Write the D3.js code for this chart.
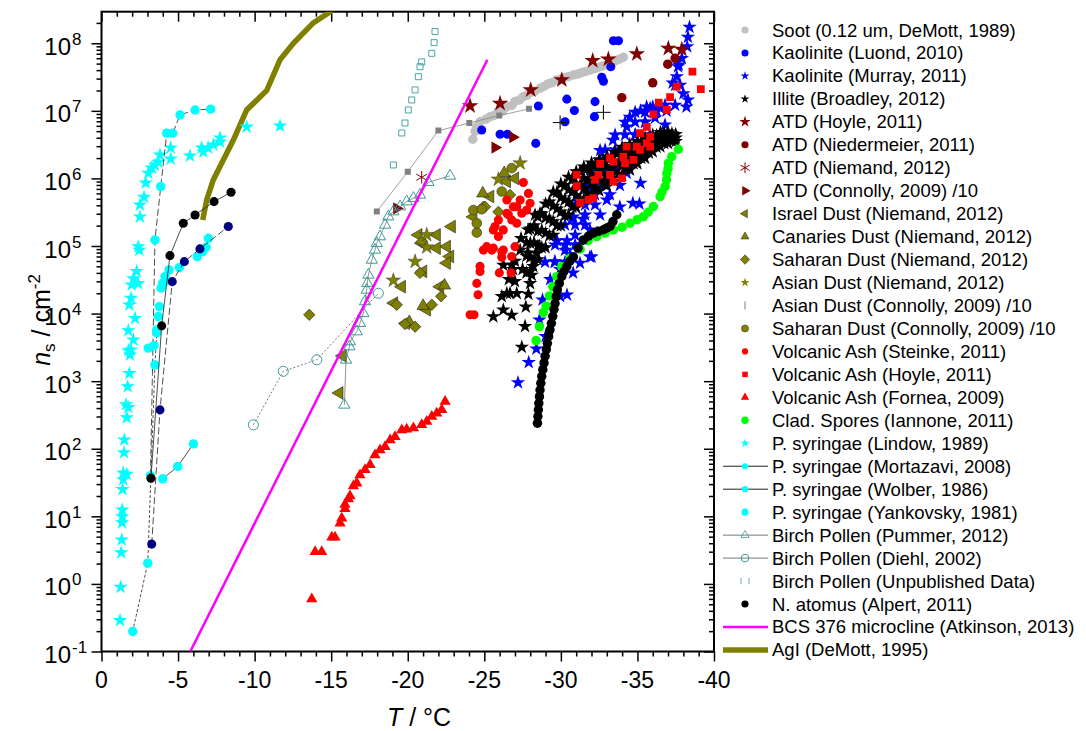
<!DOCTYPE html>
<html>
<head>
<meta charset="utf-8">
<script src="https://cdn.jsdelivr.net/npm/d3@7"></script>
<style>
  body { margin: 0; background: #fff; }
  svg { font-family: "Liberation Sans", Arial, sans-serif; }
</style>
</head>
<body>
<svg id="chart" width="1086" height="731"></svg>
<script>
// ---- data: [T in degC, ns in cm^-2] ----
const soot = [[-24.25,3.8e6],[-24.4,5.0e6],[-24.51,5.8e6],[-24.72,6.9e6],[-25.1,7.5e6],[-25.38,8.2e6],[-25.6,8.5e6],[-25.9,9.8e6],[-26.2,1.0e7],[-26.47,1.15e7],[-26.8,1.2e7],[-27.0,1.38e7],[-27.3,1.45e7],[-27.55,1.62e7],[-27.8,1.7e7],[-28.05,1.88e7],[-28.3,1.95e7],[-28.64,2.16e7],[-28.9,2.3e7],[-29.16,2.5e7],[-29.4,2.6e7],[-29.73,2.86e7],[-30.0,2.95e7],[-30.27,3.12e7],[-30.5,3.2e7],[-30.82,3.4e7],[-31.1,3.5e7],[-31.38,3.7e7],[-31.6,3.8e7],[-31.91,4.0e7],[-32.2,4.2e7],[-32.43,4.4e7],[-32.7,4.6e7],[-33.0,4.8e7],[-33.3,5.1e7],[-33.54,5.5e7],[-33.8,5.8e7],[-34.08,6.2e7]];
const kaoLuond = [[-33.43,1.09e8],[-33.76,1.09e8],[-33.26,4.5e7],[-32.67,3.14e7],[-32.78,2.74e7],[-30.39,1.49e7],[-28.53,1.18e7],[-32.23,1.37e7],[-30.88,1.01e7],[-32.19,8.2e6],[-30.27,6.9e6],[-24.83,5.2e6],[-26.03,4.5e6],[-26.51,4.5e6],[-28.36,3.3e6]];
const kaoMurray = [[-27.2,9.5e2],[-27.9,1.9e3],[-28.4,3.0e3],[-28.6,8.1e3],[-28.8,1.6e4],[-29.0,4.6e3],[-29.3,3.2e4],[-29.6,5.9e4],[-29.95,1.8e4],[-30.4,1.9e4],[-30.8,4.0e4],[-31.25,5.6e4],[-31.9,6.9e4],[-32.0,6.9e4],[-29.75,1.2e5],[-30.4,1.2e5],[-30.8,2.7e5],[-31.45,2.5e5],[-30.71,2.5e5],[-31.9,7.4e5],[-32.35,1.55e5],[-32.56,1.9e6],[-33.0,4.8e5],[-33.4,3.7e6],[-33.85,3.8e5],[-34.3,5.8e6],[-34.3,1.2e6],[-34.7,4.3e5],[-35.13,4.2e5],[-35.2,1.0e7],[-35.2,8.5e5],[-36.0,1.15e7],[-36.9,1.0e7],[-37.3,2.6e7],[-37.57,3.2e7],[-37.65,4.5e7],[-37.7,4.8e7],[-37.9,6.0e7],[-38.25,8.9e7],[-38.3,1.23e8],[-38.4,1.74e8],[-38.2,1.15e7],[-38.3,1.45e7],[-38.0,1.8e7],[-30.27,8.7e4],[-30.93,1.45e5],[-31.58,2.9e5],[-32.23,5.75e5],[-32.89,9.5e5],[-33.54,1.6e6],[-34.19,2.6e6],[-34.85,4.4e6],[-34.5,8.1e6],[-35.5,6.9e6],[-35.6,1.15e7],[-36.15,7.9e6],[-36.26,1.0e7],[-36.8,6.2e6],[-29.95,4.5e4],[-30.6,7.4e4],[-31.25,1.05e5],[-31.9,1.74e5],[-32.56,2.9e5],[-33.2,5.75e5],[-33.85,7.9e5],[-34.5,1.35e6],[-35.2,2.6e6],[-35.8,4.4e6],[-31.9,1.35e6],[-32.56,2.6e6],
  [-28.97,5.8e4],[-29.62,5.8e4],[-30.27,5.8e4],[-29.62,1.04e5],[-30.27,1.04e5],[-30.93,1.04e5],[-30.27,2.05e5],[-30.93,2.05e5],[-31.58,2.05e5],[-30.93,4.05e5],[-31.58,4.05e5],[-32.23,4.05e5],[-31.58,8.0e5],[-32.23,8.0e5],[-32.89,8.0e5],[-32.23,1.43e6],[-32.89,1.43e6],[-33.54,1.43e6],[-32.89,2.64e6],[-33.54,2.64e6],[-34.19,2.64e6],[-33.54,4.4e6],[-34.19,4.4e6],[-34.85,4.4e6],[-34.19,6.8e6],[-34.85,6.8e6],[-35.5,6.8e6],[-34.85,9.6e6],[-35.5,9.6e6],[-36.15,9.6e6],[-35.83,1.1e7],[-36.48,1.1e7],[-36.8,1.22e7],[-37.46,1.22e7],[-37.46,2.4e7],[-37.79,2.4e7]];
const illite = [[-25.59,9.0e3],[-26.24,1.14e4],[-26.79,9.5e3],[-27.45,3.2e3],[-27.66,6.5e3],[-27.71,1.26e4],[-26.14,1.8e4],[-26.68,2.0e4],[-27.88,1.95e4],[-27.99,2.8e4],[-26.24,5.2e4],[-26.79,5.2e4],[-28.1,3.7e4],[-28.43,7.8e4],[-26.47,2.0e4],[-26.88,4.5e4],[-27.34,8.7e4],[-27.86,1.74e5],[-28.31,2.9e5],[-28.64,3.05e5],[-27.12,2.0e4],[-28.2,5.0e4],[-27.86,7.9e4],[-28.6,1.0e5],
  [-26.6,3.2e4],[-27.0,6.0e4],[-27.4,1.3e5],[-27.0,3.0e4],[-27.5,4.5e4],
  [-28.0,4.2e4],[-28.0,6.8e4],[-28.0,1.1e5],[-28.0,1.8e5],
  [-28.5,6.3e4],[-28.5,1.0e5],[-28.5,1.66e5],[-28.5,2.7e5],
  [-29.0,9.5e4],[-29.0,1.55e5],[-29.0,2.6e5],[-29.0,4.2e5],
  [-29.5,1.45e5],[-29.5,2.3e5],[-29.5,3.9e5],[-29.5,6.3e5],
  [-30.0,2.0e5],[-30.0,3.2e5],[-30.0,5.2e5],[-30.0,8.3e5],
  [-30.5,2.9e5],[-30.5,4.5e5],[-30.5,6.8e5],[-30.5,1.05e6],
  [-31.0,3.7e5],[-31.0,5.6e5],[-31.0,8.3e5],[-31.0,1.26e6],
  [-31.5,4.9e5],[-31.5,7.1e5],[-31.5,1.0e6],[-31.5,1.48e6],
  [-32.0,5.8e5],[-32.0,8.3e5],[-32.0,1.17e6],[-32.0,1.7e6],
  [-32.5,6.6e5],[-32.5,9.3e5],[-32.5,1.32e6],[-32.5,1.86e6],
  [-33.0,7.8e5],[-33.0,1.07e6],[-33.0,1.51e6],[-33.0,2.1e6],
  [-33.5,9.1e5],[-33.5,1.26e6],[-33.5,1.78e6],[-33.5,2.45e6],
  [-34.0,1.12e6],[-34.0,1.55e6],[-34.0,2.1e6],[-34.0,2.9e6],
  [-34.5,1.35e6],[-34.5,1.82e6],[-34.5,2.4e6],[-34.5,3.2e6],
  [-35.0,1.66e6],[-35.0,2.1e6],[-35.0,2.75e6],[-35.0,3.55e6],
  [-35.5,2.0e6],[-35.5,2.6e6],[-35.5,3.2e6],[-35.5,4.0e6],
  [-36.0,2.5e6],[-36.0,3.0e6],[-36.0,3.6e6],[-36.0,4.4e6],
  [-36.5,2.95e6],[-36.5,3.5e6],[-36.5,4.1e6],[-36.5,4.8e6],
  [-37.0,3.3e6],[-37.0,3.8e6],[-37.0,4.3e6],[-37.0,4.9e6],
  [-37.5,3.55e6],[-37.5,4.0e6],[-37.5,4.5e6],
  [-27.75,4.0e4],[-27.75,7.1e4],[-27.75,1.12e5],
  [-28.25,6.3e4],[-28.25,1.12e5],[-28.25,2.0e5],
  [-28.75,9.5e4],[-28.75,1.7e5],[-28.75,3.0e5],
  [-29.25,1.41e5],[-29.25,2.5e5],[-29.25,4.5e5],
  [-29.75,2.0e5],[-29.75,3.55e5],[-29.75,6.3e5],
  [-30.25,2.8e5],[-30.25,4.8e5],[-30.25,7.9e5],
  [-30.75,3.8e5],[-30.75,6.3e5],[-30.75,1.0e6],
  [-31.25,5.0e5],[-31.25,7.9e5],[-31.25,1.26e6],
  [-31.75,6.0e5],[-31.75,9.3e5],[-31.75,1.41e6],
  [-32.25,7.1e5],[-32.25,1.05e6],[-32.25,1.58e6],
  [-32.75,8.3e5],[-32.75,1.2e6],[-32.75,1.74e6],
  [-33.25,9.5e5],[-33.25,1.38e6],[-33.25,2.0e6],
  [-33.75,1.15e6],[-33.75,1.66e6],[-33.75,2.4e6],
  [-34.25,1.38e6],[-34.25,1.95e6],[-34.25,2.75e6],
  [-34.75,1.66e6],[-34.75,2.24e6],[-34.75,3.0e6],
  [-35.25,2.0e6],[-35.25,2.6e6],[-35.25,3.5e6],
  [-35.75,2.4e6],[-35.75,3.0e6],[-35.75,3.8e6],
  [-36.25,2.9e6],[-36.25,3.55e6],[-36.25,4.3e6],
  [-36.75,3.3e6],[-36.75,4.0e6],[-36.75,4.7e6],
  [-37.25,3.6e6],[-37.25,4.1e6],[-37.25,4.6e6]];
const atdHoyle = [[-24.07,1.18e7],[-26.03,1.29e7],[-28.03,2.04e7],[-30.06,2.87e7],[-32.08,5.5e7],[-33.1,5.8e7],[-34.96,6.95e7],[-37.02,8.4e7],[-37.9,8.1e7]];
const atdNiedermeier = [[-33.98,1.57e7],[-36.0,2.6e7],[-36.98,4.9e7],[-37.46,6.0e7]];
const atdNiemand = [[-20.91,1.04e6]];
const atdConnolly = [[-26.86,4.07e6],[-25.7,2.86e6],[-19.28,3.6e5]];
const israelDust = [[-15.53,670],[-15.75,2370],[-19.61,2.5e4],[-19.1,1.43e4],[-19.87,7200],[-20.69,1.46e5],[-20.91,1.1e5],[-21.89,1.46e5],[-22.55,9.8e4],[-22.76,7.0e4],[-22.87,1.94e5],[-22.11,2.5e4],[-21.24,1.14e4],[-24.28,2.7e5],[-25.38,5.4e5],[-26.47,9.0e5],[-27.0,1.0e6],[-22.55,5.6e4],[-21.0,4.2e4],[-21.89,9.3e4]];
const canariesDust = [[-21.0,1.3e4],[-22.4,2.6e4],[-24.9,6.0e5],[-26.3,1.2e6],[-20.1,7.5e3]];
const saharanNiemand = [[-13.57,9.6e3],[-20.91,1.16e5],[-19.28,1.35e4],[-20.8,4.0e4],[-21.57,1.35e4],[-22.18,1.8e4],[-20.48,6.4e3],[-19.82,7.0e3],[-24.94,3.8e5],[-25.05,3.8e5],[-25.92,3.2e5],[-26.68,5.7e5]];
const asianNiemand = [[-20.48,5.9e4],[-19.06,3.1e4],[-21.24,9.6e4],[-25.92,9.7e5],[-27.34,1.68e6],[-21.24,1.46e5]];
const asianConnolly = [[-32.78,9.5e6],[-29.95,6.7e6]];
const saharanConnolly = [[-24.28,3.4e5],[-24.83,3.5e5],[-24.51,1.58e5],[-24.51,2.17e5],[-26.14,6.4e5],[-26.79,1.42e6]];
const vaSteinke = [[-27.55,8.7e5],[-27.88,6.0e5],[-27.34,4.8e5],[-27.99,4.3e5],[-27.12,3.8e5],[-27.77,3.4e5],[-26.47,3.05e5],[-27.45,3.05e5],[-26.79,2.43e5],[-25.92,2.43e5],[-25.59,1.73e5],[-26.24,1.73e5],[-25.16,9.8e4],[-24.94,8.7e4],[-25.59,9.3e4],[-26.24,8.7e4],[-27.0,9.8e4],[-26.79,7.0e4],[-26.14,6.8e4],[-24.72,5.0e4],[-24.72,4.2e4],[-25.98,4.0e4],[-26.75,4.0e4],[-24.51,2.8e4],[-24.59,1.9e4],[-24.07,9.6e3],[-24.33,9.6e3],[-26.9,3.8e5],[-26.47,4.8e5],[-26.57,2.9e5],[-25.7,1.94e5],[-27.12,2.17e5],[-25.92,1.38e5],[-25.49,8.7e4],[-26.14,8.2e4]];
const vaHoyle = [[-38.59,3.8e7],[-39.14,2.1e7],[-37.57,2.28e7],[-37.13,1.59e7],[-36.39,1.32e7],[-36.92,1.03e7],[-36.04,8.9e6],[-35.61,5.8e6],[-35.17,4.67e6],[-35.83,4.15e6],[-35.61,3.32e6],[-34.96,2.95e6],[-34.3,2.95e6],[-35.17,2.64e6],[-35.83,2.95e6],[-34.08,2.1e6],[-34.74,1.88e6],[-33.43,1.77e6],[-33.21,1.99e6],[-34.19,1.68e6],[-32.56,1.64e6],[-31.04,1.13e6],[-32.45,1.13e6],[-33.21,1.13e6],[-33.98,1.0e6],[-32.23,9.5e5],[-31.04,7.7e5],[-33.43,9.0e5],[-32.12,5.1e5],[-31.8,4.8e5],[-31.25,4.4e5]];
const vaFornea = [[-13.73,0.6],[-13.95,3.0],[-14.38,3.0],[-15.04,4.9],[-15.25,4.9],[-15.58,7.9],[-15.69,9.4],[-15.9,13],[-15.9,15],[-16.12,18],[-16.23,20],[-16.45,28],[-16.67,31],[-16.88,41],[-17.21,49],[-17.54,58],[-17.86,81],[-18.19,96],[-18.52,107],[-18.85,135],[-19.17,150],[-19.61,190],[-19.93,195],[-20.37,202],[-20.91,226],[-21.24,253],[-21.57,299],[-21.89,336],[-22.22,377],[-22.44,500]];
const cladSpores = [[-28.38,3990],[-28.6,6430],[-28.86,1.04e4],[-29.03,1.3e4],[-29.25,1.83e4],[-29.47,2.51e4],[-29.73,3.52e4],[-30.06,4.95e4],[-30.6,6.6e4],[-31.25,9.0e4],[-31.78,1.2e5],[-32.34,1.38e5],[-32.89,1.55e5],[-33.43,1.73e5],[-34.0,1.9e5],[-34.52,2.17e5],[-34.98,2.45e5],[-35.39,2.72e5],[-35.7,3.16e5],[-36.04,3.83e5],[-36.48,5.38e5],[-36.6,6.3e5],[-36.81,7.57e5],[-36.9,9.5e5],[-36.92,1.19e6],[-37.0,1.4e6],[-37.02,1.68e6],[-37.24,2.1e6],[-37.67,2.7e6]];
const psLindow = [[-1.21,0.29],[-1.25,0.9],[-1.29,2.9],[-1.32,4.5],[-1.34,8.1],[-1.36,9.9],[-1.36,12.5],[-1.38,25],[-1.42,35],[-1.65,42],[-1.42,44],[-1.47,88],[-1.49,135],[-1.65,290],[-1.75,410],[-1.6,450],[-1.71,830],[-1.82,1300],[-1.86,2450],[-1.75,2840],[-1.93,2900],[-2.08,4100],[-1.75,5600],[-2.19,8500],[-1.82,1.35e4],[-1.93,1.7e4],[-1.97,2.66e4],[-2.4,2.8e4],[-2.08,3.3e4],[-2.3,4.2e4],[-2.47,8.7e4],[-2.4,9.8e4],[-2.51,2.7e5],[-2.51,4.05e5],[-2.78,5.3e5],[-2.89,8.6e5],[-3.06,1.2e6],[-3.28,1.43e6],[-3.49,1.58e6],[-3.71,1.75e6],[-3.82,2.23e6],[-4.52,2.83e6],[-4.52,1.94e6],[-5.78,2.15e6],[-6.54,2.83e6],[-6.65,2.47e6],[-6.96,2.83e6],[-7.3,3.13e6],[-7.74,3.97e6],[-7.74,3.47e6],[-9.48,5.78e6],[-11.66,5.98e6]];
const psMortazavi = [[-3.2,40],[-3.49,1.23e5],[-3.87,7.57e5],[-4.26,4.67e6],[-4.65,4.67e6],[-5.13,8.69e6],[-6.11,1.03e7],[-7.13,1.06e7]];
const psMortazaviLow = [[-4.0,35.9],[-4.98,54.6],[-6.0,118]];
const psWolber = [[-2.04,0.198],[-3.02,2.03],[-3.49,1740],[-3.61,5240]];
const psYankovsky = [[-3.71,9030],[-3.78,1.27e4],[-3.89,2.38e4],[-4.0,2.82e4],[-4.04,2.82e4],[-4.15,3.52e4],[-4.41,4.43e4],[-5.08,4.79e4],[-6.26,6.96e4],[-6.61,8.26e4],[-6.83,9.59e4],[-6.98,1.3e5],[-3.43,3360],[-3.06,3080],[-3.61,5740]];
const psNavy = [[-3.28,3.88],[-3.82,376],[-4.62,2.97e4],[-5.41,5.87e4],[-6.43,9.06e4],[-8.28,1.94e5]];
const birchPummer = [[-15.86,446],[-15.97,2065],[-16.19,3250],[-16.23,3850],[-16.67,5420],[-16.88,7210],[-17.1,1.01e4],[-17.21,1.51e4],[-17.32,2.24e4],[-17.36,2.82e4],[-17.43,3.73e4],[-17.65,6.22e4],[-17.86,8.75e4],[-17.98,1.1e5],[-18.19,1.38e5],[-18.52,2.05e5],[-18.73,2.72e5],[-19.06,3.23e5],[-19.5,3.83e5],[-19.93,4.54e5],[-20.37,5.1e5],[-20.8,5.7e5],[-21.35,8.8e5],[-22.76,1.09e6]];
const birchDiehl = [[-9.92,226],[-11.87,1400],[-14.06,2070],[-18.08,2.0e4]];
const birchUnpub = [[-21.78,1.49e8],[-21.72,1.02e8],[-21.57,7.1e7],[-20.91,5.3e7],[-20.8,4.5e7],[-20.69,3.2e7],[-20.48,2.04e7],[-20.26,1.45e7],[-20.04,1.03e7],[-19.82,6.6e6],[-19.61,4.7e6],[-19.06,1.58e6]];
const grayLine = [[-17.98,3.23e5],[-20.0,1.26e6],[-22.0,5.1e6],[-24.02,6.6e6],[-25.98,8.5e6],[-27.92,1.07e7]];
const natomus = [[-28.47,239],[-28.5,300],[-28.53,377],[-28.56,470],[-28.6,589],[-28.64,740],[-28.69,933],[-28.75,1180],[-28.82,1479],[-28.9,1860],[-28.97,2344],[-29.05,2950],[-29.12,3631],[-29.2,4600],[-29.29,5754],[-29.38,7200],[-29.47,9120],[-29.55,1.15e4],[-29.62,1.41e4],[-29.7,1.78e4],[-29.77,2.24e4],[-29.9,2.8e4],[-30.06,3.55e4],[-30.2,4.2e4],[-30.39,5.0e4],[-30.6,6.0e4],[-30.82,6.9e4],[-31.12,9.3e4],[-31.47,1.23e5],[-31.8,1.4e5],[-32.12,1.55e5],[-32.45,1.65e5],[-32.78,1.74e5],[-33.0,1.85e5],[-33.21,1.95e5],[-33.4,2.3e5],[-33.65,2.9e5]];
const natomusLeft = [[-3.23,36.7],[-3.93,6580],[-4.47,7.2e4],[-5.34,2.17e5],[-6.11,2.88e5],[-7.35,4.54e5],[-8.46,6.25e5]];
const bcsMicrocline = [[-5.8,0.1],[-25.2,5.7e7]];
const agiDeMott = [[-6.61,2.43e5],[-6.87,4.8e5],[-7.3,9.5e5],[-7.74,1.5e6],[-8.61,3.7e6],[-9.48,1.03e7],[-10.79,2.0e7],[-11.66,5.7e7],[-12.53,1.0e8],[-13.83,2.0e8],[-14.81,2.8e8],[-15.4,3.6e8]];

const xMajor = [0, -5, -10, -15, -20, -25, -30, -35, -40];
const yMajor = [1e-1, 1, 1e1, 1e2, 1e3, 1e4, 1e5, 1e6, 1e7, 1e8];
const yExp = ['-1', '0', '1', '2', '3', '4', '5', '6', '7', '8'];

// ---- layout ----
const X0 = 101.5, X1 = 714, Y0 = 651.5, Y1 = 11.7;
const svg = d3.select('#chart');
const x = d3.scaleLinear().domain([0, -40]).range([X0, X1]);
const y = d3.scaleLog().domain([0.1, 2.93e8]).range([Y0, Y1]);

const xMinor = d3.range(-1, -40, -1).filter(v => v % 5 !== 0);
const yMinor = [];
yMajor.forEach(d => { for (let m = 2; m <= 9; m++) if (m * d < 2.93e8) yMinor.push(m * d); });

svg.append('defs').append('clipPath').attr('id', 'clip')
  .append('rect').attr('x', X0).attr('y', Y1).attr('width', X1 - X0).attr('height', Y0 - Y1);

function axisG(gen, tr, vals, size) {
  const g = svg.append('g').attr('transform', tr)
    .call(gen.tickValues(vals).tickSize(size).tickSizeOuter(0).tickFormat(''));
  g.select('.domain').remove();
  g.selectAll('line').attr('stroke', '#000').attr('stroke-width', 1.5);
  return g;
}
// bottom/left ticks point out, top/right mirror ticks point in
axisG(d3.axisBottom(x), `translate(0,${Y0})`, xMajor, 10);
axisG(d3.axisBottom(x), `translate(0,${Y0})`, xMinor, 5);
axisG(d3.axisBottom(x), `translate(0,${Y1})`, xMajor, 10);
axisG(d3.axisBottom(x), `translate(0,${Y1})`, xMinor, 5);
axisG(d3.axisLeft(y), `translate(${X0},0)`, yMajor, 10);
axisG(d3.axisLeft(y), `translate(${X0},0)`, yMinor, 5);
axisG(d3.axisLeft(y), `translate(${X1},0)`, yMajor, 10);
axisG(d3.axisLeft(y), `translate(${X1},0)`, yMinor, 5);

svg.append('rect').attr('x', X0).attr('y', Y1).attr('width', X1 - X0).attr('height', Y0 - Y1)
  .attr('fill', 'none').attr('stroke', '#000').attr('stroke-width', 2);

// x tick labels
svg.append('g').selectAll('text').data(xMajor).join('text')
  .attr('x', d => x(d)).attr('y', 688).attr('text-anchor', 'middle')
  .attr('font-size', 23).text(d => String(d));

// y tick labels 10^n
const yl = svg.append('g').selectAll('g').data(yMajor).join('g');
yl.append('text').attr('x', 71).attr('y', d => y(d) + 11.5).attr('text-anchor', 'end')
  .attr('font-size', 24).text('10');
yl.append('text').attr('x', 72).attr('y', d => y(d) + 1.5).attr('font-size', 17)
  .text((d, i) => yExp[i]);

// axis titles
const xt = svg.append('text').attr('x', 419).attr('y', 726).attr('text-anchor', 'middle').attr('font-size', 25);
xt.append('tspan').attr('font-style', 'italic').text('T');
xt.append('tspan').text(' / °C');
const yt = svg.append('text').attr('transform', 'translate(50,320) rotate(-90)')
  .attr('text-anchor', 'middle').attr('font-size', 25);
yt.append('tspan').attr('font-style', 'italic').text('n');
yt.append('tspan').attr('font-size', 17).attr('dy', 5).text('s');
yt.append('tspan').attr('dy', -5).text(' / cm');
yt.append('tspan').attr('font-size', 17).attr('dy', -10).text('-2');

// ---- series ----
const OLIVE = '#808000', DRED = '#800000', TEAL = '#3a9a9a';
const symType = {
  circle: d3.symbolCircle, square: d3.symbolSquare, tri: d3.symbolTriangle,
  triL: d3.symbolTriangle, triR: d3.symbolTriangle, diamond: d3.symbolSquare,
  star: d3.symbolStar, asterisk: d3.symbolAsterisk || d3.symbolCross, plus: d3.symbolPlus || d3.symbolCross
};
const symRot = { triL: -90, triR: 90, diamond: 45 };

const series = [
  { data: agiDeMott, line: { color: OLIVE, width: 5.5 } },
  { data: soot, shape: 'circle', fill: '#c0c0c0', size: 70 },
  { data: grayLine, shape: 'square', fill: '#808080', size: 36, line: { color: '#888', width: 0.8 } },
  { data: kaoLuond, shape: 'circle', fill: '#0000ff', size: 65 },
  { data: kaoMurray, shape: 'star', fill: '#0000ff', size: 65 },
  { data: illite, shape: 'star', fill: '#000', size: 65 },
  { data: atdHoyle, shape: 'star', fill: DRED, size: 85 },
  { data: atdNiedermeier, shape: 'circle', fill: DRED, size: 70 },
  { data: atdNiemand, shape: 'asterisk', stroke: DRED, size: 110, sw: 1 },
  { data: atdConnolly, shape: 'triR', fill: DRED, size: 65 },
  { data: israelDust, shape: 'triL', fill: OLIVE, stroke: '#222', sw: 0.6, size: 70 },
  { data: canariesDust, shape: 'tri', fill: OLIVE, stroke: '#222', sw: 0.6, size: 65 },
  { data: saharanNiemand, shape: 'diamond', fill: OLIVE, stroke: '#222', sw: 0.6, size: 65 },
  { data: asianNiemand, shape: 'star', fill: OLIVE, stroke: '#222', sw: 0.4, size: 65 },
  { data: asianConnolly, shape: 'plus', stroke: '#000', size: 70, sw: 1 },
  { data: saharanConnolly, shape: 'circle', fill: OLIVE, stroke: '#333', sw: 0.6, size: 75 },
  { data: vaSteinke, shape: 'circle', fill: '#ff0000', size: 65 },
  { data: vaHoyle, shape: 'square', fill: '#ff0000', size: 60 },
  { data: vaFornea, shape: 'tri', fill: '#ff0000', size: 55 },
  { data: cladSpores, shape: 'circle', fill: '#00ff00', size: 70 },
  { data: psLindow, shape: 'star', fill: '#00ffff', size: 65 },
  { data: psMortazavi, shape: 'circle', fill: '#00ffff', size: 70, line: { color: '#222', width: 0.8, dash: '7,3' } },
  { data: psMortazaviLow, shape: 'circle', fill: '#00ffff', size: 70, line: { color: '#222', width: 0.8 } },
  { data: psWolber, shape: 'circle', fill: '#00ffff', size: 70, line: { color: '#222', width: 0.8, dash: '3,2' } },
  { data: psYankovsky, shape: 'circle', fill: '#00ffff', size: 70 },
  { data: psNavy, shape: 'circle', fill: '#000080', size: 65, line: { color: '#222', width: 0.8, dash: '7,3' } },
  { data: natomusLeft, shape: 'circle', fill: '#000', size: 65, line: { color: '#222', width: 0.8 } },
  { data: birchPummer, shape: 'tri', fill: 'none', stroke: TEAL, sw: 1, size: 55, line: { color: '#777', width: 0.8 } },
  { data: birchDiehl, shape: 'circle', fill: 'none', stroke: TEAL, sw: 1, size: 80, line: { color: '#666', width: 0.9, dash: '2,2' } },
  { data: birchUnpub, shape: 'square', fill: 'none', stroke: TEAL, sw: 0.9, size: 36 },
  { data: natomus, shape: 'circle', fill: '#000', size: 70 },
  { data: bcsMicrocline, line: { color: '#ff00ff', width: 2.5 } }
];

const plot = svg.append('g').attr('clip-path', 'url(#clip)');
const lineGen = d3.line().x(d => x(d[0])).y(d => y(d[1]));

function symPath(shape, size) { return d3.symbol().type(symType[shape]).size(size)(); }

series.forEach(s => {
  const g = plot.append('g');
  if (s.line) {
    g.append('path').datum(s.data).attr('d', lineGen).attr('fill', 'none')
      .attr('stroke', s.line.color).attr('stroke-width', s.line.width)
      .attr('stroke-dasharray', s.line.dash || null);
  }
  if (s.shape) {
    const strokeOnly = s.shape === 'asterisk' || s.shape === 'plus';
    g.selectAll('path.m').data(s.data).join('path').attr('class', 'm')
      .attr('transform', d => `translate(${x(d[0])},${y(d[1])}) rotate(${symRot[s.shape] || 0})`)
      .attr('d', symPath(s.shape, s.size))
      .attr('fill', strokeOnly ? 'none' : s.fill)
      .attr('stroke', s.stroke || 'none')
      .attr('stroke-width', s.sw || 0);
  }
});

// ---- legend ----
const legendItems = [
  { label: 'Soot (0.12 um, DeMott, 1989)', shape: 'circle', fill: '#c0c0c0', size: 40 },
  { label: 'Kaolinite (Luond, 2010)', shape: 'circle', fill: '#0000ff', size: 40 },
  { label: 'Kaolinite (Murray, 2011)', shape: 'star', fill: '#0000ff', size: 25 },
  { label: 'Illite (Broadley, 2012)', shape: 'star', fill: '#000', size: 25 },
  { label: 'ATD (Hoyle, 2011)', shape: 'star', fill: DRED, size: 40 },
  { label: 'ATD (Niedermeier, 2011)', shape: 'circle', fill: DRED, size: 40 },
  { label: 'ATD (Niemand, 2012)', shape: 'asterisk', stroke: DRED, sw: 1, size: 80 },
  { label: 'ATD (Connolly, 2009) /10', shape: 'triR', fill: DRED, size: 40 },
  { label: 'Israel Dust (Niemand, 2012)', shape: 'triL', fill: OLIVE, stroke: '#222', sw: 0.5, size: 30 },
  { label: 'Canaries Dust (Niemand, 2012)', shape: 'tri', fill: OLIVE, stroke: '#222', sw: 0.5, size: 28 },
  { label: 'Saharan Dust (Niemand, 2012)', shape: 'diamond', fill: OLIVE, stroke: '#222', sw: 0.5, size: 45 },
  { label: 'Asian Dust (Niemand, 2012)', shape: 'star', fill: OLIVE, size: 25 },
  { label: 'Asian Dust (Connolly, 2009) /10', shape: 'vbar', stroke: '#555', sw: 0.8 },
  { label: 'Saharan Dust (Connolly, 2009) /10', shape: 'circle', fill: OLIVE, stroke: '#333', sw: 0.5, size: 40 },
  { label: 'Volcanic Ash (Steinke, 2011)', shape: 'circle', fill: '#ff0000', size: 30 },
  { label: 'Volcanic Ash (Hoyle, 2011)', shape: 'square', fill: '#ff0000', size: 30 },
  { label: 'Volcanic Ash (Fornea, 2009)', shape: 'tri', fill: '#ff0000', size: 30 },
  { label: 'Clad. Spores (Iannone, 2011)', shape: 'circle', fill: '#00ff00', size: 45 },
  { label: 'P. syringae (Lindow, 1989)', shape: 'star', fill: '#00ffff', size: 25 },
  { label: 'P. syringae (Mortazavi, 2008)', shape: 'circle', fill: '#00ffff', size: 30, line: { color: '#222', width: 1 } },
  { label: 'P. syringae (Wolber, 1986)', shape: 'circle', fill: '#00ffff', size: 30, line: { color: '#222', width: 1 } },
  { label: 'P. syringae (Yankovsky, 1981)', shape: 'circle', fill: '#00ffff', size: 40 },
  { label: 'Birch Pollen (Pummer, 2012)', shape: 'tri', fill: 'none', stroke: TEAL, sw: 0.8, size: 28, line: { color: '#777', width: 1 } },
  { label: 'Birch Pollen (Diehl, 2002)', shape: 'circle', fill: 'none', stroke: TEAL, sw: 1, size: 45, line: { color: '#777', width: 1 } },
  { label: 'Birch Pollen (Unpublished Data)', shape: 'bars', stroke: TEAL, sw: 0.8 },
  { label: 'N. atomus (Alpert, 2011)', shape: 'circle', fill: '#000', size: 40 },
  { label: 'BCS 376 microcline (Atkinson, 2013)', line: { color: '#ff00ff', width: 2.5 } },
  { label: 'AgI (DeMott, 1995)', line: { color: OLIVE, width: 5.5 } }
];

const lg = svg.append('g');
legendItems.forEach((it, i) => {
  const cy = 30 + i * 22.96;
  const g = lg.append('g').attr('transform', `translate(0,${cy})`);
  if (it.line) {
    g.append('line').attr('x1', 723).attr('x2', 768).attr('y1', 0).attr('y2', 0)
      .attr('stroke', it.line.color).attr('stroke-width', it.line.width);
  }
  if (it.shape === 'vbar') {
    g.append('line').attr('x1', 745).attr('x2', 745).attr('y1', -4).attr('y2', 4)
      .attr('stroke', it.stroke).attr('stroke-width', it.sw);
  } else if (it.shape === 'bars') {
    [741, 749].forEach(bx => g.append('line').attr('x1', bx).attr('x2', bx).attr('y1', -3).attr('y2', 3)
      .attr('stroke', it.stroke).attr('stroke-width', it.sw));
  } else if (it.shape) {
    const strokeOnly = it.shape === 'asterisk';
    g.append('path').attr('transform', `translate(745,0) rotate(${symRot[it.shape] || 0})`)
      .attr('d', symPath(it.shape, it.size))
      .attr('fill', strokeOnly ? 'none' : it.fill)
      .attr('stroke', it.stroke || 'none').attr('stroke-width', it.sw || 0);
  }
  g.append('text').attr('x', 772).attr('y', 6.5).attr('font-size', 18.5).attr('fill', '#000').text(it.label);
});
</script>
</body>
</html>
